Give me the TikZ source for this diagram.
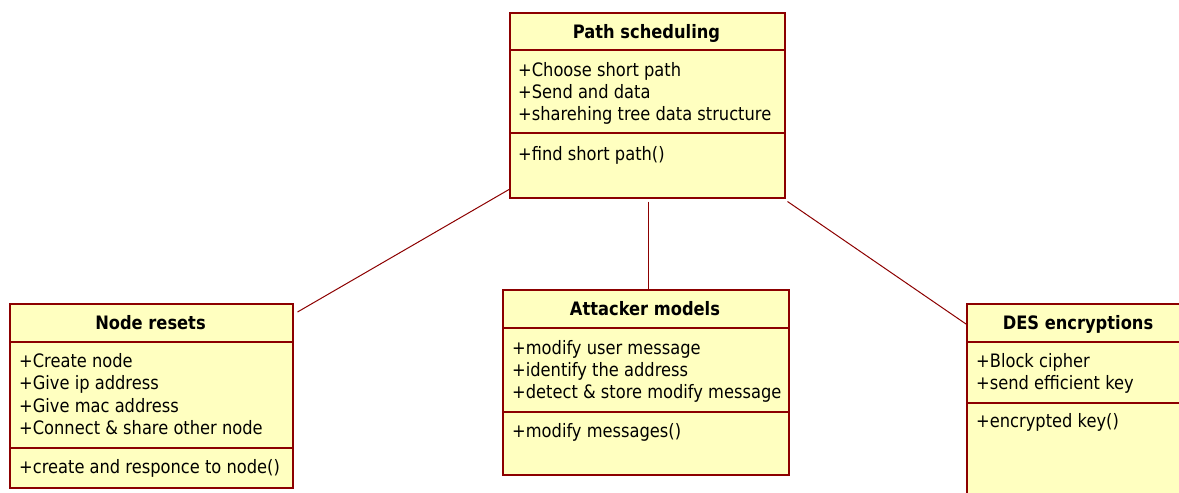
\documentclass[tikz,border=0pt]{standalone}
\usepackage{fontspec}
\setmainfont{DejaVu Sans}[FakeStretch=0.88]
\usetikzlibrary{calc}
\definecolor{umlfill}{RGB}{255,255,192}
\definecolor{umlline}{RGB}{140,0,0}
\begin{document}
\begin{tikzpicture}[x=1pt,y=-1pt,
  classbox/.style={draw=umlline, fill=umlfill, line width=1.5pt, inner sep=0pt, anchor=north west},
  sep/.style={draw=umlline, line width=1.5pt},
  title/.style={font=\fontsize{18.5}{22}\selectfont\bfseries, anchor=base, inner sep=0pt},
  member/.style={font=\fontsize{18.5}{22}\selectfont, anchor=base west, inner sep=0pt},
  assoc/.style={draw=umlline, line width=1pt}]
\useasboundingbox (0,0) rectangle (1179,493);
\clip (0,0) rectangle (1179,493);

% Path scheduling
\node[classbox, minimum width=275pt, minimum height=185pt] (ps) at (509,12) {};
\draw[sep] (509,50) -- (784,50);
\draw[sep] (509,133) -- (784,133);
\node[title] (pst) at (646.5,38) {Path scheduling};
\node[member] (psa1) at (518,76) {+Choose short path};
\node[member] (psa2) at (518,98) {+Send and data};
\node[member] (psa3) at (518,120) {+sharehing tree data structure};
\node[member] (psm1) at (518,160) {+find short path()};

% Node resets
\node[classbox, minimum width=283pt, minimum height=184pt] (nr) at (9,303) {};
\draw[sep] (9,342) -- (292,342);
\draw[sep] (9,448) -- (292,448);
\node[title] (nrt) at (150.5,329) {Node resets};
\node[member] (nra1) at (19,367) {+Create node};
\node[member] (nra2) at (19,389) {+Give ip address};
\node[member] (nra3) at (19,412) {+Give mac address};
\node[member] (nra4) at (19,434) {+Connect \& share other node};
\node[member] (nrm1) at (19,473) {+create and responce to node()};

% Attacker models
\node[classbox, minimum width=286pt, minimum height=185pt] (am) at (502,289) {};
\draw[sep] (502,328) -- (788,328);
\draw[sep] (502,412) -- (788,412);
\node[title] (amt) at (645,315) {Attacker models};
\node[member] (ama1) at (512,354) {+modify user message};
\node[member] (ama2) at (512,376) {+identify the address};
\node[member] (ama3) at (512,398) {+detect \& store modify message};
\node[member] (amm1) at (512,437) {+modify messages()};

% DES encryptions
\node[classbox, minimum width=230pt, minimum height=200pt] (des) at (966,303) {};
\draw[sep] (966,342) -- (1196,342);
\draw[sep] (966,403) -- (1196,403);
\node[title] (dest) at (1078,329) {DES encryptions};
\node[member] (desa1) at (976,367) {+Block cipher};
\node[member] (desa2) at (976,389) {+send efficient key};
\node[member] (desm1) at (976,427) {+encrypted key()};

% Associations
\draw[assoc] ($(ps.south west)+(0,-9)$) -- ($(nr.north east)+(4,9)$);
\coordinate (psb) at ($(ps.south)+(1.5,3)$);
\draw[assoc] (psb) -- (psb |- am.north);
\draw[assoc] ($(ps.south east)+(2,3)$) -- ($(des.north west)+(0,21)$);
\end{tikzpicture}
\end{document}
